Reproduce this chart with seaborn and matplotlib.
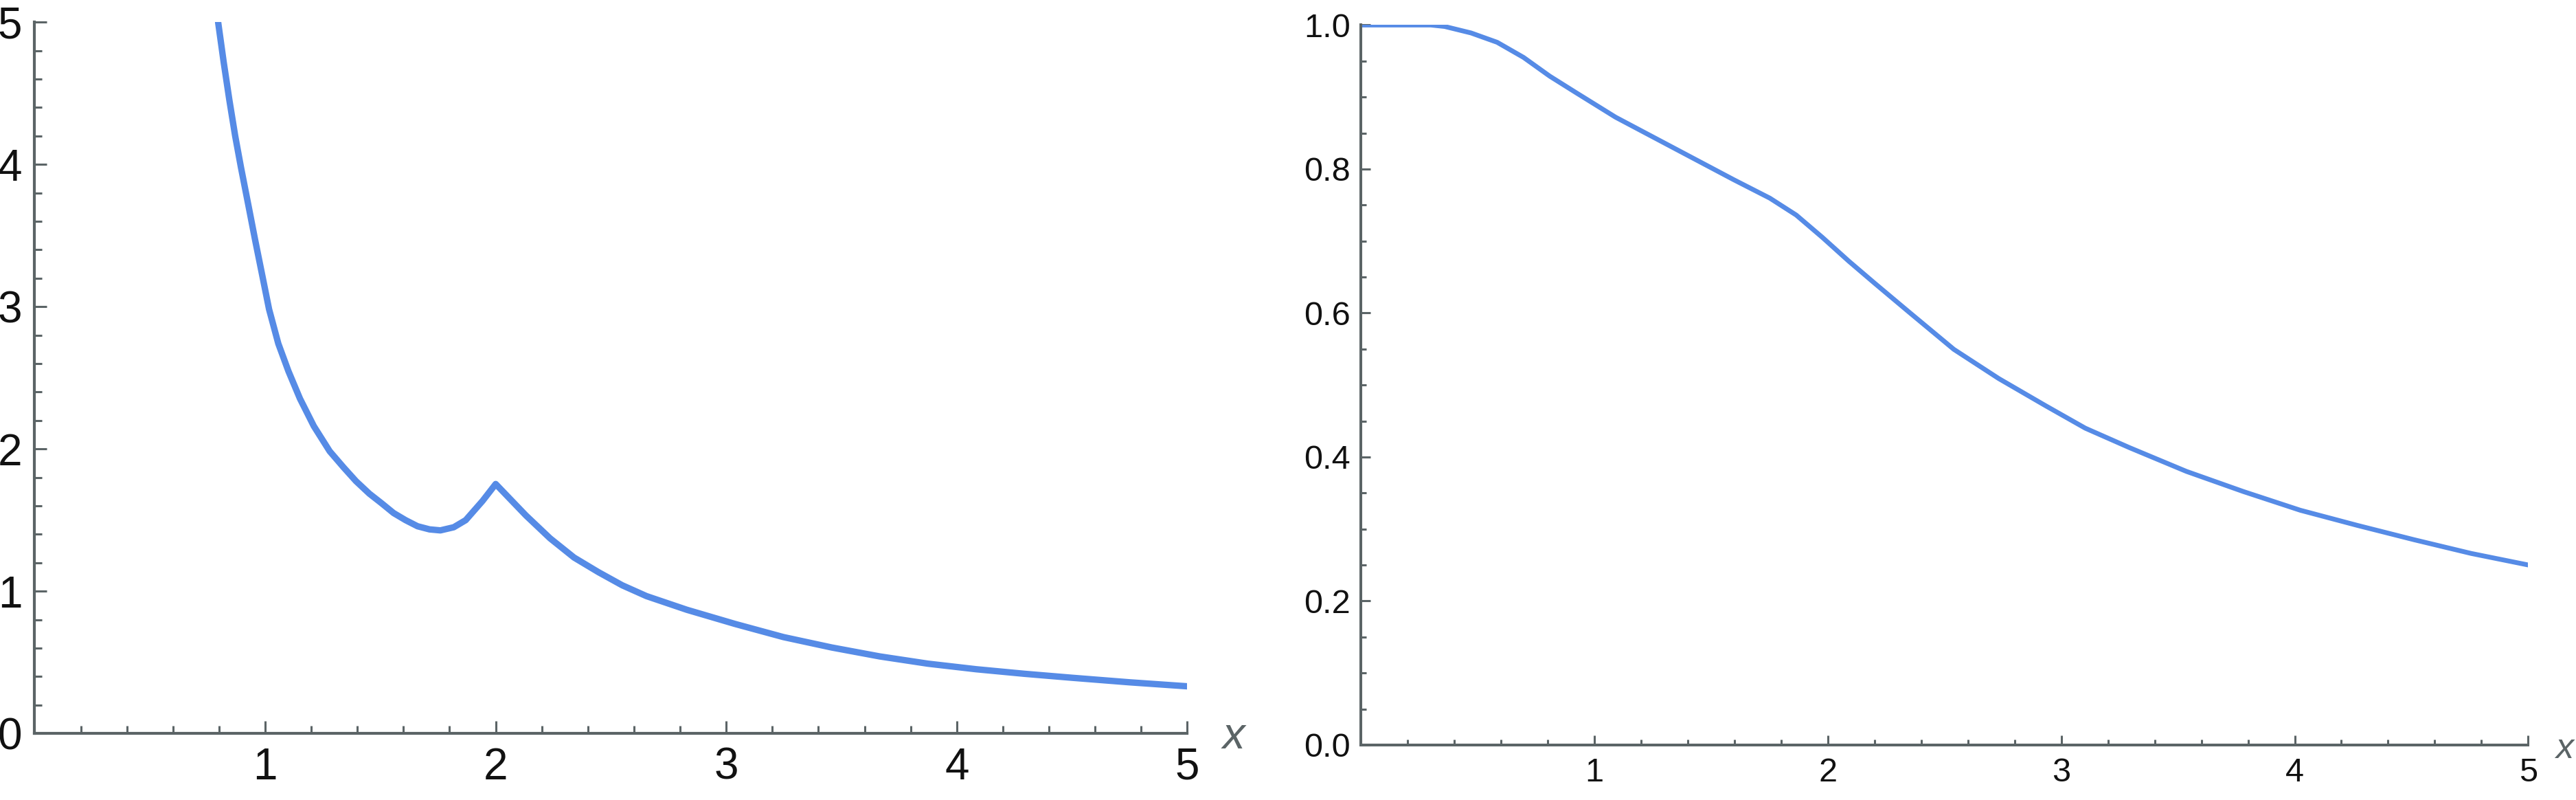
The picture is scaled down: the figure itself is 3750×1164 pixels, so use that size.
import numpy as np
import pandas as pd
import matplotlib
matplotlib.use("Agg")
import matplotlib.pyplot as plt
import matplotlib.ticker as mticker
import seaborn as sns

sns.set_style("ticks")
plt.rcParams['font.family'] = ['Liberation Sans', 'DejaVu Sans']

# curva da esquerda
x_left = [0.796, 0.820, 0.845, 0.870, 0.895, 0.928, 0.957, 0.987, 1.017, 1.057,
          1.101, 1.151, 1.211, 1.280, 1.340, 1.394, 1.452, 1.504, 1.557, 1.609,
          1.661, 1.713, 1.760, 1.818, 1.870, 1.943, 2.000, 2.131, 2.236, 2.340,
          2.445, 2.549, 2.654, 2.829, 3.039, 3.248, 3.457, 3.666, 3.875, 4.084,
          4.293, 4.500, 4.750, 5.000]
y_left = [5.00, 4.72, 4.45, 4.20, 3.98, 3.707, 3.465, 3.224, 2.982, 2.741,
          2.547, 2.354, 2.161, 1.984, 1.871, 1.774, 1.686, 1.620, 1.550, 1.500,
          1.457, 1.435, 1.428, 1.450, 1.500, 1.635, 1.754, 1.533, 1.372, 1.237,
          1.135, 1.042, 0.966, 0.870, 0.770, 0.678, 0.605, 0.542, 0.491, 0.452,
          0.420, 0.392, 0.360, 0.332]

# curva da direita
x_right = [0.0, 0.30, 0.359, 0.472, 0.584, 0.697, 0.809, 0.922, 1.091, 1.260,
           1.429, 1.598, 1.752, 1.865, 1.977, 2.090, 2.202, 2.349, 2.540, 2.732,
           2.934, 3.103, 3.292, 3.536, 3.780, 4.024, 4.268, 4.512, 4.756, 5.000]
y_right = [1.0, 1.0, 0.998, 0.989, 0.976, 0.955, 0.929, 0.906, 0.872, 0.843,
           0.814, 0.785, 0.7595, 0.736, 0.705, 0.672, 0.641, 0.601, 0.5495, 0.509,
           0.471, 0.440, 0.413, 0.380, 0.352, 0.326, 0.305, 0.285, 0.266, 0.250]

left_xticks = [1, 2, 3, 4, 5]
left_yticks = [0, 1, 2, 3, 4, 5]
right_xticks = [1, 2, 3, 4, 5]
right_yticks = [0.0, 0.2, 0.4, 0.6, 0.8, 1.0]

cor_linha = "#568BE6"
cinza = "#5B6466"

fig = plt.figure(figsize=(37.5, 11.64), dpi=100, facecolor="white")
ax1 = fig.add_axes([0.01344, 0.08308, 0.44747, 0.88918])
ax2 = fig.add_axes([0.52827, 0.06881, 0.45317, 0.89991])

sns.lineplot(x=x_left, y=y_left, ax=ax1, color=cor_linha, linewidth=6.7, sort=False)
sns.lineplot(x=x_right, y=y_right, ax=ax2, color=cor_linha, linewidth=5.0, sort=False)


def estilo(ax, xt, yt, ymax, ystep_minor, fs, lmaj, lmin, spw, padx, pady, fmt):
    ax.set_xlim(0, 5)
    ax.set_ylim(0, ymax)
    sns.despine(ax=ax)
    for s in ["left", "bottom"]:
        ax.spines[s].set_color(cinza)
        ax.spines[s].set_linewidth(spw)
    ax.set_xticks(xt)
    ax.set_yticks(yt)
    ax.set_yticklabels([fmt.format(v) for v in yt])
    ax.xaxis.set_minor_locator(mticker.MultipleLocator(0.2))
    ax.yaxis.set_minor_locator(mticker.MultipleLocator(ystep_minor))
    ax.tick_params(which="major", direction="in", length=lmaj, width=2.2,
                   color=cinza, labelsize=fs, labelcolor="#111111")
    ax.tick_params(which="minor", direction="in", length=lmin, width=2.2, color=cinza)
    ax.tick_params(axis="x", which="major", pad=padx)
    ax.tick_params(axis="y", which="major", pad=pady)
    ax.set_ylabel("")
    ax.grid(False)


estilo(ax1, left_xticks, left_yticks, 5, 0.2, 46, 13, 8, 3.0, 14, 13, "{:.0f}")
estilo(ax2, right_xticks, right_yticks, 1.0, 0.05, 35, 10.4, 6, 2.9, 13, 11, "{:.1f}")

# rótulo "x" no fim do eixo
ax1.set_xlabel("x", fontsize=47, style="italic", color=cinza)
ax1.xaxis.set_label_coords(1.0403, -0.021)
ax1.xaxis.label.set_va("baseline")
ax2.set_xlabel("x", fontsize=37.5, style="italic", color=cinza)
ax2.xaxis.set_label_coords(1.0312, -0.0182)
ax2.xaxis.label.set_va("baseline")

fig.savefig("out.png", dpi=100, facecolor="white")
